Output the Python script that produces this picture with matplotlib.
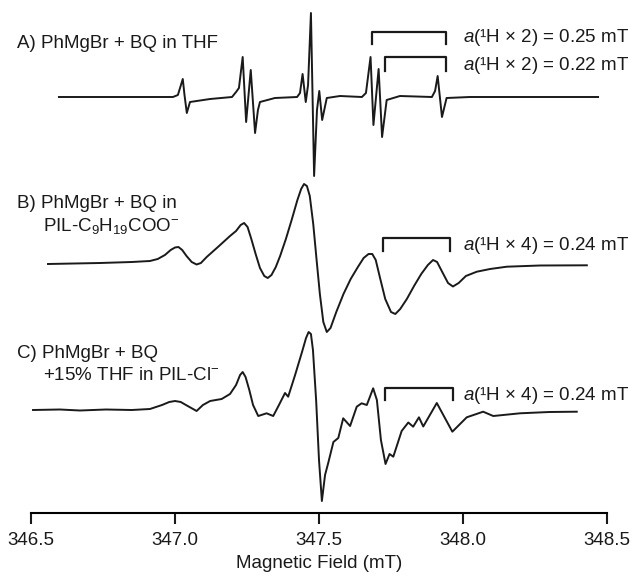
import matplotlib
matplotlib.use("Agg")
import matplotlib.pyplot as plt

plt.rcParams['font.family'] = ['Liberation Sans', 'DejaVu Sans']
plt.rcParams['mathtext.fontset'] = 'custom'
plt.rcParams['mathtext.rm'] = 'Liberation Sans'
plt.rcParams['mathtext.it'] = 'Liberation Sans:italic'

# spectrum A: PhMgBr + BQ in THF (field in mT, signal in a.u.)
field_a = [346.597, 346.74, 346.993, 347.010, 347.027, 347.033, 347.041, 347.052, 347.122,
           347.198, 347.212, 347.222, 347.235, 347.247, 347.263, 347.278, 347.288, 347.295,
           347.347, 347.424, 347.434, 347.443, 347.454, 347.462, 347.472, 347.483, 347.493,
           347.501, 347.511, 347.527, 347.573, 347.649, 347.663, 347.679, 347.689, 347.707,
           347.719, 347.735, 347.781, 347.892, 347.903, 347.912, 347.927, 347.943, 348.024,
           348.469]
signal_a = [0, 0, 0, 2, 18, 2, -16, -5, -2,
            0, 5, 9, 40, -25, 27, -36, -13, -5,
            -1, 0, 4, 23, -5, 12, 84, -79, -13,
            6, -23, -1, 1, 0, 4, 40, -28, 28,
            -40, -3, 1, 0, 6, 21, -20, -1, 0,
            0]

# spectrum B: PhMgBr + BQ in PIL-C9H19COO-
field_b = [346.559, 346.740, 346.850, 346.913, 346.940, 346.965, 346.985, 347.000, 347.012,
           347.025, 347.040, 347.058, 347.075, 347.090, 347.110, 347.149, 347.191, 347.212,
           347.228, 347.240, 347.252, 347.265, 347.280, 347.295, 347.310, 347.322, 347.335,
           347.350, 347.365, 347.385, 347.405, 347.425, 347.438, 347.448, 347.458, 347.468,
           347.480, 347.492, 347.503, 347.515, 347.527, 347.540, 347.560, 347.585, 347.610,
           347.635, 347.655, 347.672, 347.685, 347.697, 347.712, 347.730, 347.750, 347.765,
           347.782, 347.805, 347.830, 347.855, 347.878, 347.896, 347.910, 347.928, 347.948,
           347.965, 347.985, 348.010, 348.048, 348.094, 348.152, 348.267, 348.430]
signal_b = [0, 1, 2, 3, 5, 9, 14, 16.5, 17,
            14, 8, 2, -0.5, 1, 7, 17, 28, 33,
            39, 41, 37, 25, 10, -4, -12, -14, -11,
            -3, 8, 25, 44, 64, 75, 80, 78, 68,
            40, 3, -30, -58, -68, -64, -48, -30, -15,
            -3, 6, 10, 10, 4, -14, -35, -48, -50,
            -45, -35, -22, -10, -1, 4, 2, -8, -19,
            -22.5, -19, -12, -7.7, -5, -2.7, -1.5, -1.3]

# spectrum C: PhMgBr + BQ + 15% THF in PIL-Cl-
field_c = [346.507, 346.600, 346.670, 346.760, 346.850, 346.913, 346.955, 346.980, 347.000,
           347.020, 347.038, 347.075, 347.097, 347.122, 347.162, 347.191, 347.212, 347.226,
           347.235, 347.245, 347.258, 347.271, 347.289, 347.318, 347.341, 347.361, 347.382,
           347.393, 347.417, 347.441, 347.455, 347.464, 347.472, 347.479, 347.490, 347.500,
           347.510, 347.521, 347.532, 347.550, 347.567, 347.584, 347.608, 347.631, 347.648,
           347.666, 347.688, 347.701, 347.715, 347.731, 347.745, 347.758, 347.787, 347.810,
           347.827, 347.847, 347.862, 347.909, 347.963, 348.013, 348.070, 348.105, 348.198,
           348.300, 348.395]
signal_c = [0, 0.5, -0.5, 0.5, 0, 1, 5, 8, 9,
            8, 5, -1, 5, 9, 11, 16, 25, 35,
            38, 33, 20, 5, -6, -3.3, -6, 5, 17,
            13.3, 35, 58, 72, 78, 76, 60, 10, -50,
            -91, -65, -53, -32, -28, -8.3, -16, 3.3, 6.7,
            5, 21.7, 10, -30, -54, -44, -46.7, -21, -12.5,
            -16.7, -7.3, -16.5, 7, -21.7, -7.3, -1.7, -6, -3.3,
            -2, -1.7]

traces = [(field_a, signal_a, 416), (field_b, signal_b, 249), (field_c, signal_c, 103)]

fig = plt.figure(figsize=(6.4, 5.79), dpi=100)
ax = fig.add_axes([31 / 640, 66 / 579, 576 / 640, 513 / 579])

for x, y, base in traces:
    ax.plot(x, [v + base for v in y], color='#1a1a1a', lw=1.4, solid_joinstyle='round')

# hyperfine brackets
brackets = [(347.683, 347.940, 481, 469), (347.729, 347.940, 456, 442),
            (347.723, 347.955, 275, 262), (347.729, 347.964, 125, 113)]
for x0, x1, top, bot in brackets:
    ax.plot([x0, x0, x1, x1], [bot, top, top, bot], color='#1a1a1a', lw=1.6)

fs = 13.5
ax.text(346.451, 470, 'A) PhMgBr + BQ in THF', fontsize=fs, va='center', color='#1a1a1a')
ax.text(346.451, 310, 'B) PhMgBr + BQ in', fontsize=fs, va='center', color='#1a1a1a')
ax.text(346.542, 287, 'PIL-C$_9$H$_{19}$COO$^{-}$', fontsize=fs, va='center', color='#1a1a1a')
ax.text(346.451, 160, 'C) PhMgBr + BQ', fontsize=fs, va='center', color='#1a1a1a')
ax.text(346.542, 138, '+15% THF in PIL-Cl$^{-}$', fontsize=fs, va='center', color='#1a1a1a')

ax.text(347.999, 475, '$\\it{a}$(¹H × 2) = 0.25 mT', fontsize=fs, va='center', color='#1a1a1a')
ax.text(347.999, 448, '$\\it{a}$(¹H × 2) = 0.22 mT', fontsize=fs, va='center', color='#1a1a1a')
ax.text(347.999, 268, '$\\it{a}$(¹H × 4) = 0.24 mT', fontsize=fs, va='center', color='#1a1a1a')
ax.text(347.999, 118, '$\\it{a}$(¹H × 4) = 0.24 mT', fontsize=fs, va='center', color='#1a1a1a')

ax.set_xlim(346.5, 348.5)
ax.set_ylim(0, 513)
ax.set_xticks([346.5, 347.0, 347.5, 348.0, 348.5])
ax.set_xticklabels(['346.5', '347.0', '347.5', '348.0', '348.5'])
ax.set_yticks([])
for side in ['left', 'right', 'top']:
    ax.spines[side].set_visible(False)
ax.spines['bottom'].set_linewidth(1.5)
ax.tick_params(axis='x', direction='out', length=8, width=1.5, labelsize=fs, pad=6,
               colors='#1a1a1a')
ax.set_xlabel('Magnetic Field (mT)', fontsize=fs, labelpad=4, color='#1a1a1a')
ax.patch.set_alpha(0)

fig.savefig('out.png', dpi=100)
